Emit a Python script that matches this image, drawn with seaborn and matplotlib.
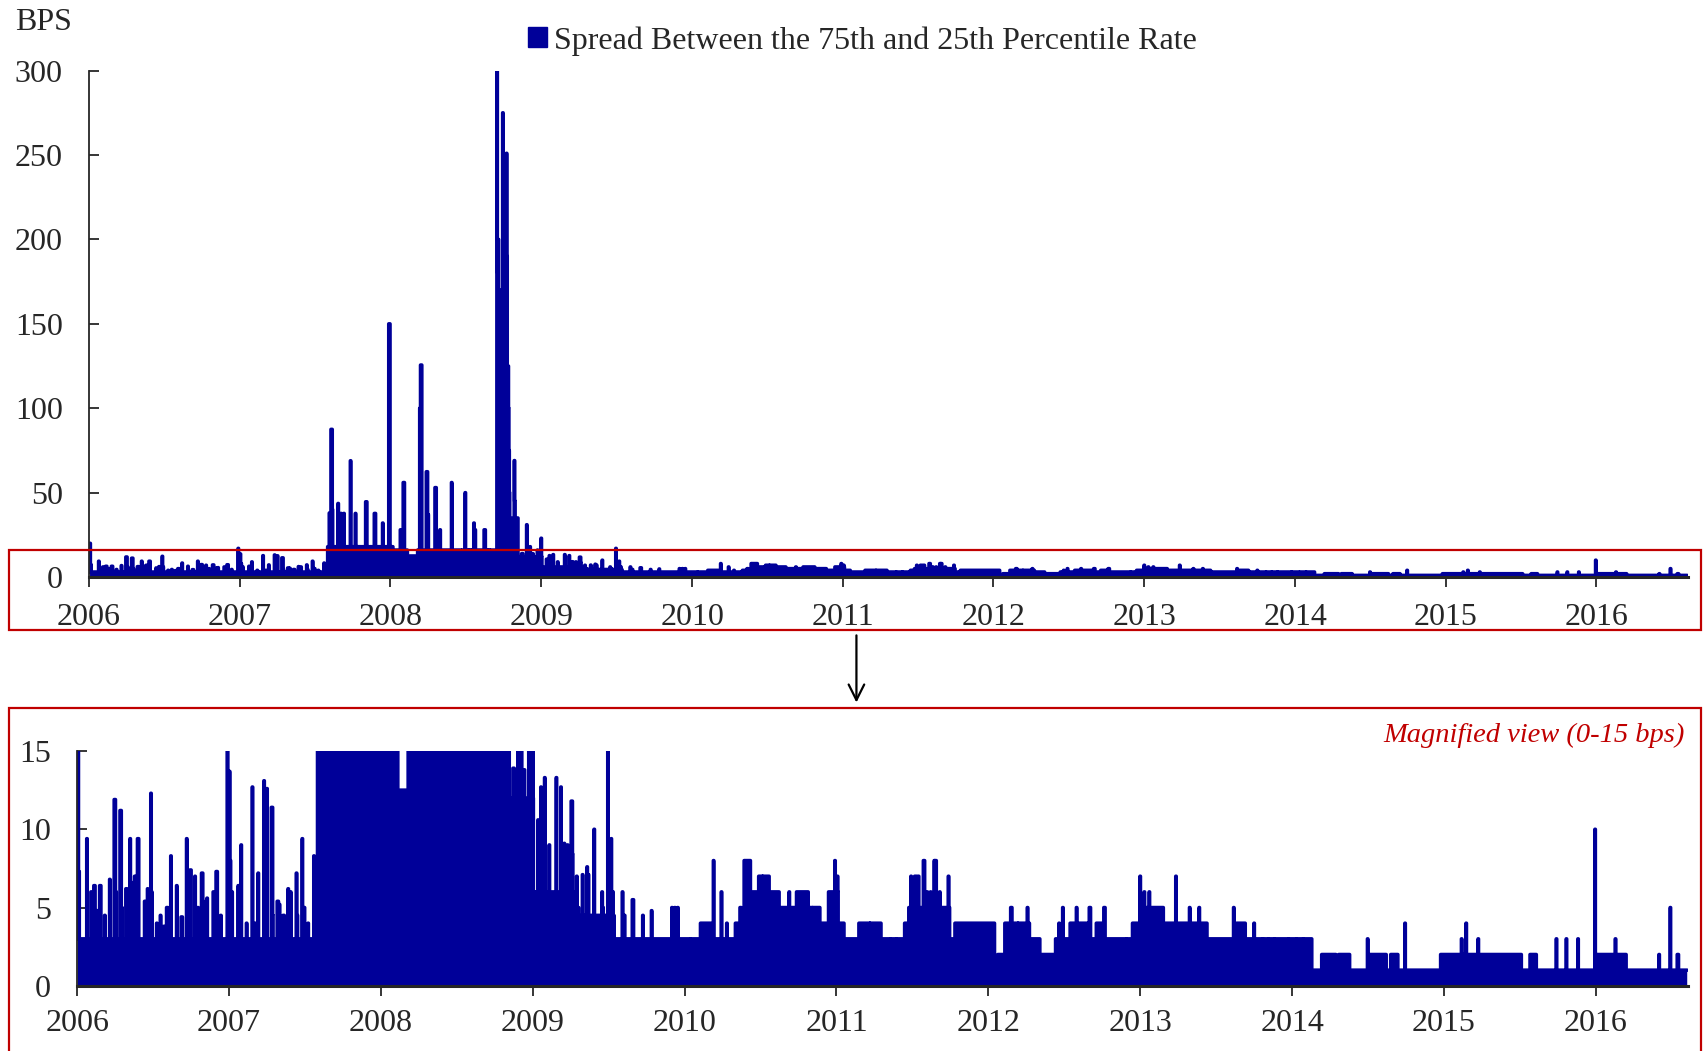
import matplotlib
matplotlib.use("Agg")
import matplotlib.pyplot as plt
import matplotlib.dates as mdates
from matplotlib.patches import Rectangle, FancyArrowPatch, Patch
import numpy as np
import pandas as pd
import seaborn as sns

BLUE = "#000099"
RED = "#C00000"

START = "2006-01-02"
END = "2016-08-08"

# piecewise base level of the spread (bps), holds until the next date
BASE_DATES = [
    "2006-01-02", "2007-08-02", "2008-01-07", "2008-02-11", "2008-03-07",
    "2008-09-15", "2008-10-14", "2008-11-05", "2009-01-05", "2009-04-15",
    "2009-07-01", "2010-02-08", "2010-03-05", "2010-05-03", "2010-05-24",
    "2010-06-08", "2010-06-28", "2010-07-23", "2010-08-16", "2010-09-27",
    "2010-10-25", "2010-11-22", "2010-12-13", "2011-01-05", "2011-01-19",
    "2011-02-24", "2011-04-18", "2011-06-14", "2011-06-24", "2011-09-30",
    "2011-10-13", "2012-01-16", "2012-01-24", "2012-02-10", "2012-04-09",
    "2012-05-04", "2012-06-11", "2012-07-16", "2012-08-27", "2012-09-17",
    "2012-10-08", "2012-12-13", "2013-01-02", "2013-02-25", "2013-06-10",
    "2013-08-20", "2013-09-10", "2014-02-17", "2014-03-13", "2014-04-16",
    "2014-04-23", "2014-05-19", "2014-07-02", "2014-08-15", "2014-08-26",
    "2014-09-12", "2014-12-24", "2015-07-06", "2015-07-27", "2015-08-11",
    "2016-01-04", "2016-03-14",
]
BASE_VALUES = [
    3, 18, 16, 12.5, 16,
    150, 35, 12, 6, 4.5,
    3, 4, 3, 4, 8,
    6, 7, 6, 5, 6,
    5, 4, 6, 4, 3,
    4, 3, 4, 5, 3,
    4, 1, 2, 4, 3,
    2, 3, 4, 3, 4,
    3, 4, 5, 4, 3,
    4, 3, 1, 2, 1,
    2, 1, 2, 1, 2,
    1, 2, 1, 2, 1,
    2, 1,
]

# single days that stand out from the base level
EVENT_DATES = [
    "2006-01-03", "2006-01-05", "2006-01-24", "2006-02-03", "2006-02-10",
    "2006-02-17", "2006-02-24", "2006-03-20", "2006-03-31", "2006-04-04",
    "2006-04-14", "2006-04-18", "2006-04-28", "2006-05-08", "2006-05-11",
    "2006-05-19", "2006-05-26", "2006-06-12", "2006-06-19", "2006-06-27",
    "2006-06-29", "2006-07-11", "2006-07-28", "2006-08-14", "2006-08-28",
    "2006-09-08", "2006-09-21", "2006-09-29", "2006-10-11", "2006-10-27",
    "2006-11-06", "2006-11-09", "2006-11-24", "2006-12-01", "2006-12-28",
    "2007-01-02", "2007-01-04", "2007-01-08", "2007-01-23", "2007-01-30",
    "2007-02-26", "2007-03-12", "2007-03-26", "2007-04-02", "2007-04-13",
    "2007-04-16", "2007-04-27", "2007-05-02", "2007-05-23", "2007-05-29",
    "2007-06-12", "2007-06-14", "2007-06-26", "2007-06-29", "2007-07-24",
    "2007-08-06", "2007-08-10", "2007-08-13", "2007-08-27", "2007-09-03",
    "2007-09-10", "2007-09-26", "2007-10-08", "2007-10-15", "2007-10-23",
    "2007-11-02", "2007-11-09", "2007-11-23", "2007-12-05", "2007-12-13",
    "2007-12-28", "2007-12-31", "2008-01-03", "2008-01-25", "2008-02-01",
    "2008-03-12", "2008-03-14", "2008-03-28", "2008-04-01", "2008-04-18",
    "2008-04-23", "2008-04-30", "2008-05-28", "2008-06-20", "2008-06-30",
    "2008-07-08", "2008-07-15", "2008-07-21", "2008-07-24", "2008-08-15",
    "2008-08-25", "2008-08-29", "2008-09-15", "2008-09-16", "2008-09-17",
    "2008-09-18", "2008-09-19", "2008-09-29", "2008-09-30", "2008-10-08",
    "2008-10-09", "2008-10-10", "2008-10-13", "2008-10-14", "2008-10-15",
    "2008-10-27", "2008-10-28", "2008-11-06", "2008-11-14", "2008-11-26",
    "2008-12-04", "2008-12-11", "2008-12-22", "2008-12-31", "2009-01-02",
    "2009-01-13", "2009-01-20", "2009-01-29", "2009-02-09", "2009-02-26",
    "2009-03-09", "2009-03-17", "2009-03-25", "2009-04-03", "2009-04-06",
    "2009-04-16", "2009-04-20", "2009-04-30", "2009-05-11", "2009-05-14",
    "2009-05-28", "2009-06-16", "2009-06-18", "2009-06-30", "2009-07-08",
    "2009-07-10", "2009-07-14", "2009-08-04", "2009-08-07", "2009-08-28",
    "2009-09-22", "2009-10-13", "2009-12-01", "2009-12-08", "2009-12-15",
    "2010-01-14", "2010-03-11", "2010-03-30", "2010-04-12", "2010-05-14",
    "2010-09-09", "2010-12-28", "2011-01-03", "2011-05-25", "2011-06-29",
    "2011-07-05", "2011-07-08", "2011-07-15", "2011-07-29", "2011-08-05",
    "2011-08-15", "2011-08-24", "2011-08-26", "2011-09-06", "2011-09-27",
    "2012-02-24", "2012-04-04", "2012-06-19", "2012-06-28", "2012-07-31",
    "2012-08-31", "2012-10-05", "2012-11-28", "2012-12-31", "2013-01-10",
    "2013-01-22", "2013-03-27", "2013-04-29", "2013-05-22", "2013-08-13",
    "2013-10-01", "2013-11-05", "2014-01-10", "2014-07-01", "2014-09-29",
    "2015-02-12", "2015-02-23", "2015-03-24", "2015-09-28", "2015-10-22",
    "2015-11-19", "2015-12-30", "2016-02-17", "2016-06-01", "2016-06-28",
    "2016-07-15",
    "2006-03-08", "2006-07-20", "2006-08-04", "2006-10-18", "2006-12-12",
    "2007-02-12", "2007-03-05", "2007-05-11", "2007-07-10", "2011-05-10",
    "2013-10-22", "2013-11-19", "2013-12-23", "2014-01-27", "2012-03-12",
    "2010-07-07", "2010-11-04", "2011-03-22",
]
EVENT_VALUES = [
    20, 7.3, 9.4, 6, 6.4,
    4.8, 6.4, 6.8, 11.9, 6,
    11.2, 5, 6.2, 9.4, 6.6,
    7, 9.4, 5.4, 6.2, 12.3,
    6, 4, 3.8, 8.3, 6.4,
    4.4, 9.4, 7.4, 7, 7.2,
    5.4, 5.6, 6, 7.3, 17,
    13.7, 8, 6, 6.4, 9,
    12.7, 7.2, 13.1, 12.6, 11.4,
    4.5, 5.4, 5.2, 6.2, 6,
    7.2, 4.5, 9.4, 5, 8.3,
    38, 87.5, 40, 43.6, 37.7,
    37.7, 68.9, 37.7, 12.2, 13.5,
    44.6, 12.5, 37.7, 11.7, 32,
    150, 5.3, 9.4, 28, 56,
    100, 125.6, 62.4, 37, 53,
    12.5, 28, 56, 12.5, 50,
    12.5, 12.5, 32, 28, 28,
    12.5, 12.5, 300, 200, 180,
    200, 170, 275, 200, 251,
    190, 125, 100, 75, 50,
    69, 45, 9.4, 13.9, 31,
    18, 13.8, 16, 23, 3,
    10.6, 12.7, 13.3, 9, 13.3,
    12.7, 9.1, 9, 11.8, 8.4,
    7, 5, 7.1, 7.6, 7.1,
    10, 6, 5, 17, 9.4,
    6, 4.5, 6, 4.5, 5.5,
    4.5, 4.8, 5, 5, 5,
    2, 8, 6, 4, 5,
    6, 8, 7, 2, 7,
    6, 7, 7, 8, 6,
    6, 8, 8, 6, 7,
    5, 5, 4, 5, 5,
    5, 5, 2, 7, 6,
    6, 7, 5, 5, 5,
    4, 2, 2, 3, 4,
    3, 4, 3, 3, 3,
    3, 10, 3, 2, 5,
    2,
    4.5, 4.5, 5, 5, 4.5,
    4, 4, 4.5, 4, 2,
    2, 2, 2, 2, 3,
    5, 3, 2,
]

YEARS = list(range(2006, 2017))
TOP_YTICKS = [0, 50, 100, 150, 200, 250, 300]
BOTTOM_YTICKS = [0, 5, 10, 15]
LEGEND_LABEL = "Spread Between the 75th and 25th Percentile Rate"
ZOOM_NOTE = "Magnified view (0-15 bps)"

# daily series: base level, then the single-day readings on top
days = pd.bdate_range(START, END)
base_pos = np.searchsorted(pd.to_datetime(BASE_DATES).values, days.values, side="right") - 1
spread = np.array(BASE_VALUES, dtype=float)[base_pos]
event_pos = np.searchsorted(days.values, pd.to_datetime(EVENT_DATES).values)
spread[event_pos] = EVENT_VALUES
df = pd.DataFrame({"date": days, "bps": spread})

sns.set_style("ticks")
plt.rcParams["font.family"] = ["Liberation Serif", "DejaVu Serif"]
FS = 23

fig = plt.figure(figsize=(17.04, 10.51), dpi=100)
ax_top = fig.add_axes([0.0523, 0.4509, 0.9381, 0.4819])
ax_bot = fig.add_axes([0.0453, 0.0620, 0.9451, 0.2234])


def draw(ax, ymax, yticks, xpad):
    ax.fill_between(df["date"], 0, df["bps"], step="post", color=BLUE, lw=0)
    sns.lineplot(data=df, x="date", y="bps", ax=ax, color=BLUE, lw=2.6,
                 drawstyle="steps-post", estimator=None,
                 solid_joinstyle="round", solid_capstyle="round")
    ax.set_xlim(pd.Timestamp("2006-01-01"), pd.Timestamp(END) + pd.Timedelta(days=1))
    ax.set_ylim(0, ymax)
    ax.set_yticks(yticks)
    ax.set_xticks([pd.Timestamp(f"{y}-01-01") for y in YEARS])
    ax.xaxis.set_major_formatter(mdates.DateFormatter("%Y"))
    ax.set_xlabel("")
    ax.set_ylabel("")
    for s in ["top", "right"]:
        ax.spines[s].set_visible(False)
    ax.spines["left"].set_linewidth(1.3)
    ax.spines["bottom"].set_linewidth(2.2)
    ax.tick_params(axis="y", direction="in", length=7, width=1.3, labelsize=FS, pad=19)
    ax.tick_params(axis="x", direction="out", length=7, width=1.3, labelsize=FS, pad=xpad)


draw(ax_top, 300, TOP_YTICKS, 12)
draw(ax_bot, 15, BOTTOM_YTICKS, 10)

fig.text(0.0089, 0.979, "BPS", ha="left", va="center", fontsize=FS)
fig.legend(handles=[Patch(facecolor=BLUE, edgecolor=BLUE)], labels=[LEGEND_LABEL],
           loc="center left", bbox_to_anchor=(0.3100, 0.9612), frameon=False,
           fontsize=FS, handlelength=0.6, handleheight=0.6, handletextpad=0.2,
           borderpad=0, borderaxespad=0)

# red frames, arrow and note
fig.patches.append(Rectangle((0.0051, 0.4002), 0.9930, 0.0765, transform=fig.transFigure,
                             fill=False, ec=RED, lw=1.6))
fig.patches.append(Rectangle((0.0051, -0.02), 0.9930, 0.3468, transform=fig.transFigure,
                             fill=False, ec=RED, lw=1.6))
fig.patches.append(FancyArrowPatch((0.5026, 0.3981), (0.5026, 0.3289), transform=fig.transFigure,
                                   arrowstyle="->", mutation_scale=28, lw=1.6, color="black"))
fig.text(0.9885, 0.3001, ZOOM_NOTE, ha="right", va="center", fontsize=20.5,
         style="italic", color=RED)

fig.savefig("out.png", dpi=100)
